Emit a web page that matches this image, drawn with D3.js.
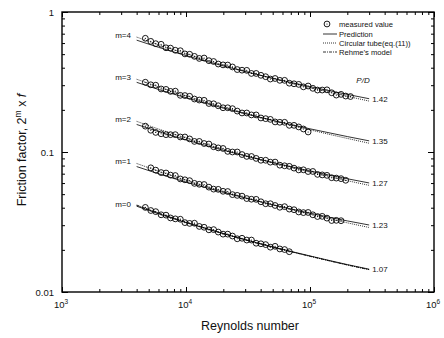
<!DOCTYPE html>
<html>
<head>
<meta charset="utf-8">
<script src="https://cdn.jsdelivr.net/npm/d3@7"></script>
<style>
  body { margin: 0; background: #fff; }
  text { font-family: "Liberation Sans", Arial, Helvetica, sans-serif; fill: #111; }
</style>
</head>
<body>
<svg id="chart" width="444" height="338"></svg>
<script>
// Reynolds numbers of the measured runs (each bundle uses a run of consecutive entries)
const reRuns = [4700, 5200, 5700, 6300, 6900, 7500, 8200, 9000, 9800, 10700,
  11700, 12800, 14000, 15300, 16700, 18200, 19900, 21700, 23700, 25900,
  28300, 30900, 33700, 36800, 40200, 43900, 47900, 52300, 57100, 62400,
  68100, 74300, 81100, 88500, 96600, 105400, 115000, 125500, 137000, 149500,
  163000, 178000, 194000, 212000];

// measured 2^m x f, per bundle
const measPD142 = [0.649, 0.617, 0.594, 0.588, 0.555, 0.552, 0.533, 0.529, 0.502, 0.499,
  0.482, 0.466, 0.469, 0.449, 0.443, 0.425, 0.419, 0.418, 0.405, 0.388,
  0.384, 0.383, 0.364, 0.364, 0.353, 0.345, 0.332, 0.335, 0.325, 0.325,
  0.310, 0.307, 0.304, 0.292, 0.296, 0.285, 0.277, 0.277, 0.278, 0.265,
  0.255, 0.258, 0.251, 0.249];
const measPD135 = [0.315, 0.302, 0.300, 0.282, 0.280, 0.271, 0.272, 0.254, 0.253, 0.250,
  0.239, 0.235, 0.234, 0.222, 0.221, 0.214, 0.207, 0.207, 0.204, 0.196,
  0.190, 0.190, 0.184, 0.184, 0.175, 0.173, 0.171, 0.164, 0.163, 0.163,
  0.155, 0.155, 0.151, 0.146, 0.139];
const measPD127 = [0.153, 0.143, 0.138, 0.135, 0.133, 0.133, 0.133, 0.128, 0.128, 0.124,
  0.119, 0.119, 0.115, 0.114, 0.109, 0.107, 0.106, 0.101, 0.100, 0.100,
  0.0959, 0.0930, 0.0929, 0.0900, 0.0873, 0.0873, 0.0846, 0.0847, 0.0805, 0.0797,
  0.0790, 0.0767, 0.0745, 0.0746, 0.0725, 0.0726, 0.0692, 0.0686, 0.0681, 0.0655,
  0.0651, 0.0645, 0.0628];
const measPD123 = [0.0771, 0.0742, 0.0713, 0.0708, 0.0684, 0.0679, 0.0642, 0.0633, 0.0624,
  0.0597, 0.0588, 0.0586, 0.0561, 0.0543, 0.0541, 0.0524, 0.0522, 0.0496, 0.0490,
  0.0484, 0.0465, 0.0460, 0.0459, 0.0441, 0.0427, 0.0427, 0.0415, 0.0403, 0.0407,
  0.0391, 0.0387, 0.0373, 0.0369, 0.0370, 0.0356, 0.0346, 0.0347, 0.0337, 0.0324,
  0.0325, 0.0323];
const measPD107 = [0.0402, 0.0382, 0.0375, 0.0356, 0.0354, 0.0338, 0.0333, 0.0331, 0.0313, 0.0309,
  0.0310, 0.0294, 0.0290, 0.0278, 0.0279, 0.0268, 0.0259, 0.0259, 0.0251, 0.0240,
  0.0242, 0.0235, 0.0235, 0.0223, 0.0221, 0.0218, 0.0209, 0.0212, 0.0203, 0.0201,
  0.0194];

// Reynolds numbers for the correlation curves
const lineRe = [4000, 6000, 10000, 20000, 50000, 100000, 200000, 300000];

// circular tube correlation, eq.(11), scaled by 2^m
const circM4 = [0.662, 0.584, 0.504, 0.418, 0.335, 0.288, 0.250, 0.231];
const circM3 = [0.331, 0.292, 0.252, 0.209, 0.168, 0.144, 0.125, 0.1155];
const circM2 = [0.1656, 0.1460, 0.1260, 0.1046, 0.0838, 0.0720, 0.0624, 0.0578];
const circM1 = [0.0828, 0.0730, 0.0630, 0.0523, 0.0419, 0.0360, 0.0312, 0.0289];
const circM0 = [0.0414, 0.0365, 0.0315, 0.02615, 0.02096, 0.0180, 0.01561, 0.01444];

// predicted values, scaled by 2^m
const predM4 = [0.6293, 0.5595, 0.4884, 0.4117, 0.3364, 0.2929, 0.2578, 0.2402];
const predM3 = [0.3146, 0.2797, 0.2442, 0.2059, 0.1682, 0.1464, 0.1289, 0.1201];
const predM2 = [0.1573, 0.1399, 0.1221, 0.1029, 0.0841, 0.0732, 0.0644, 0.0601];
const predM1 = [0.0787, 0.0699, 0.0610, 0.0515, 0.0420, 0.0366, 0.0322, 0.0301];
const predM0 = [0.0410, 0.0362, 0.0313, 0.0261, 0.0210, 0.0181, 0.0157, 0.01455];

// Rehme's model for the tightest bundle
const rehmeM0 = [0.0418, 0.0367, 0.0316, 0.0262, 0.0209, 0.0180, 0.0156, 0.01445];

const mLabels = ["m=4", "m=3", "m=2", "m=1", "m=0"];
const pdLabels = ["1.42", "1.35", "1.27", "1.23", "1.07"];
const runStart = [0, 0, 0, 1, 0];
const xTickExp = [3, 4, 5, 6];
const yTickVals = [1, 0.1, 0.01];
const yTickLabels = ["1", "0.1", "0.01"];

const groups = [
  { meas: measPD142, circ: circM4, pred: predM4 },
  { meas: measPD135, circ: circM3, pred: predM3 },
  { meas: measPD127, circ: circM2, pred: predM2 },
  { meas: measPD123, circ: circM1, pred: predM1 },
  { meas: measPD107, circ: circM0, pred: predM0, rehme: rehmeM0 }
].map((g, i) => Object.assign(g, { m: mLabels[i], pd: pdLabels[i], start: runStart[i] }));

const svg = d3.select("#chart");
const L = 62, R = 434, T = 12, B = 292;
const x = d3.scaleLog().domain([1e3, 1e6]).range([L, R]);
const y = d3.scaleLog().domain([0.01, 1]).range([B, T]);

// minor tick positions
const xMinor = [], yMinor = [];
for (let e = 3; e < 6; e++) for (let k = 2; k <= 9; k++) xMinor.push(k * Math.pow(10, e));
for (let e = -2; e < 0; e++) for (let k = 2; k <= 9; k++) yMinor.push(k * Math.pow(10, e));
const xMajor = xTickExp.map(e => Math.pow(10, e));

function styleAxis(g) {
  g.select(".domain").remove();
  g.selectAll(".tick line").attr("stroke", "#000").attr("stroke-width", 1);
}

// inward ticks on all four sides
const majX = 5, minX = 3, majY = 6, minY = 3;
svg.append("g").attr("transform", `translate(0,${B})`)
  .call(d3.axisBottom(x).tickValues(xMajor).tickSize(-majX).tickFormat(""))
  .call(styleAxis);
svg.append("g").attr("transform", `translate(0,${B})`)
  .call(d3.axisBottom(x).tickValues(xMinor).tickSize(-minX).tickFormat(""))
  .call(styleAxis);
svg.append("g").attr("transform", `translate(0,${T})`)
  .call(d3.axisTop(x).tickValues(xMajor).tickSize(-majX).tickFormat(""))
  .call(styleAxis);
svg.append("g").attr("transform", `translate(0,${T})`)
  .call(d3.axisTop(x).tickValues(xMinor).tickSize(-minX).tickFormat(""))
  .call(styleAxis);
svg.append("g").attr("transform", `translate(${L},0)`)
  .call(d3.axisLeft(y).tickValues(yTickVals).tickSize(-majY).tickPadding(8)
    .tickFormat((d, i) => yTickLabels[i]))
  .call(styleAxis)
  .call(g => g.selectAll("text").attr("font-size", 9.5).attr("fill", "#111")
    .attr("font-family", "Liberation Sans, Arial, sans-serif"));
svg.append("g").attr("transform", `translate(${L},0)`)
  .call(d3.axisLeft(y).tickValues(yMinor).tickSize(-minY).tickFormat(""))
  .call(styleAxis);
svg.append("g").attr("transform", `translate(${R},0)`)
  .call(d3.axisRight(y).tickValues(yTickVals).tickSize(-majY).tickFormat(""))
  .call(styleAxis);
svg.append("g").attr("transform", `translate(${R},0)`)
  .call(d3.axisRight(y).tickValues(yMinor).tickSize(-minY).tickFormat(""))
  .call(styleAxis);

// frame
svg.append("rect").attr("x", L).attr("y", T).attr("width", R - L).attr("height", B - T)
  .attr("fill", "none").attr("stroke", "#000").attr("stroke-width", 1.4);

// x tick labels as powers of ten
const xl = svg.append("g").attr("font-size", 9.5);
xTickExp.forEach(e => {
  const t = xl.append("text").attr("x", x(Math.pow(10, e)) - 1).attr("y", 308)
    .attr("text-anchor", "middle");
  t.append("tspan").text("10");
  t.append("tspan").attr("dy", -4).attr("font-size", 6.5).text(e);
});

// axis titles
svg.append("text").attr("x", (L + R) / 2 + 2).attr("y", 330).attr("text-anchor", "middle")
  .attr("font-size", 12.5).text("Reynolds number");
const yt = svg.append("text").attr("transform", `translate(26,${(T + B) / 2 - 2}) rotate(-90)`)
  .attr("text-anchor", "middle").attr("font-size", 12.5);
yt.append("tspan").text("Friction factor, 2");
yt.append("tspan").attr("dy", -5).attr("font-size", 8.5).text("m");
yt.append("tspan").attr("dy", 5).text(" x ");
yt.append("tspan").attr("font-style", "italic").text("f");

// correlation curves
const line = d3.line().x(d => x(d[0])).y(d => y(d[1])).curve(d3.curveMonotoneX);
const plot = svg.append("g");
groups.forEach(g => {
  const pairs = v => v.map((f, i) => [lineRe[i], f]);
  plot.append("path").attr("d", line(pairs(g.circ))).attr("fill", "none")
    .attr("stroke", "#000").attr("stroke-width", 0.8).attr("stroke-dasharray", "1,1");
  if (g.rehme) {
    plot.append("path").attr("d", line(pairs(g.rehme))).attr("fill", "none")
      .attr("stroke", "#000").attr("stroke-width", 0.8).attr("stroke-dasharray", "3,1,1,1");
  }
  plot.append("path").attr("d", line(pairs(g.pred))).attr("fill", "none")
    .attr("stroke", "#000").attr("stroke-width", 0.8);
});

// measured points: open circle with centre dot
function marker(sel, cx, cy) {
  sel.append("circle").attr("cx", cx).attr("cy", cy).attr("r", 2.9)
    .attr("fill", "none").attr("stroke", "#000").attr("stroke-width", 0.9);
  sel.append("circle").attr("cx", cx).attr("cy", cy).attr("r", 0.6).attr("fill", "#000");
}
groups.forEach(g => {
  const mg = plot.append("g");
  g.meas.forEach((f, i) => marker(mg, x(reRuns[g.start + i]), y(f)));
});

// group labels: exponent m at the left end, P/D at the right end
groups.forEach(g => {
  svg.append("text").attr("x", 131).attr("y", y(g.circ[0]) + 1)
    .attr("text-anchor", "end").attr("font-size", 8).attr("fill", "#333").text(g.m);
  svg.append("text").attr("x", x(lineRe[lineRe.length - 1]) + 3)
    .attr("y", y(g.pred[g.pred.length - 1]) + 3)
    .attr("font-size", 8).attr("fill", "#333").text(g.pd);
});
svg.append("text").attr("x", 363).attr("y", 83).attr("text-anchor", "middle")
  .attr("font-size", 8).attr("font-style", "italic").attr("fill", "#333").text("P/D");

// legend
const lg = svg.append("g").attr("font-size", 7.6);
marker(lg, 327, 24);
lg.append("text").attr("x", 339).attr("y", 26.8).text("measured value");
const legLines = [
  { y: 34, dash: null, label: "Prediction" },
  { y: 43, dash: "1,1", label: "Circular tube(eq.(11))" },
  { y: 52, dash: "3,1,1,1", label: "Rehme\u2019s model" }
];
legLines.forEach(d => {
  lg.append("line").attr("x1", 323).attr("x2", 337).attr("y1", d.y).attr("y2", d.y)
    .attr("stroke", "#000").attr("stroke-width", 0.8).attr("stroke-dasharray", d.dash);
  lg.append("text").attr("x", 339).attr("y", d.y + 2.8).text(d.label);
});
</script>
</body>
</html>
